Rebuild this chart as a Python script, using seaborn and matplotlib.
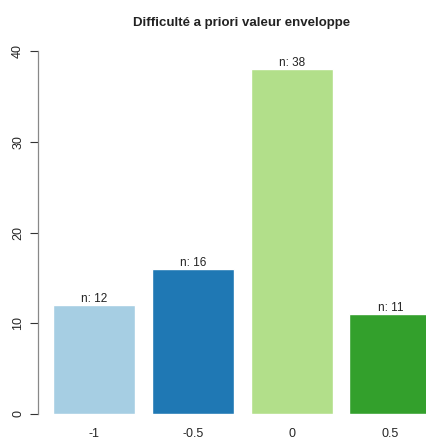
import pandas as pd
import matplotlib
matplotlib.use("Agg")
import matplotlib.pyplot as plt
import seaborn as sns

# data
categories = ["-1", "-0.5", "0", "0.5"]
counts = [12, 16, 38, 11]
title = "Difficulté a priori valeur enveloppe"

sns.set_style("white")
plt.rcParams['font.family'] = ['Liberation Sans', 'DejaVu Sans']

df = pd.DataFrame({"valeur": categories, "n": counts})
colors = sns.color_palette("Paired")[:4]

fig = plt.figure(figsize=(4.27, 4.43), dpi=100)
ax = fig.add_axes([38 / 427, 0.0655, 1 - 38 / 427, 0.850])

sns.barplot(data=df, x="valeur", y="n", hue="valeur", palette=colors,
            width=0.83, legend=False, ax=ax, saturation=1)

for cont, v in zip(ax.containers, counts):
    ax.bar_label(cont, labels=[f"n: {v}"], padding=0, fontsize=8.5, color="#222222")

ax.set_xlim(-0.567, 3.37)
ax.set_ylim(0, 41.5)
ax.set_yticks([0, 10, 20, 30, 40])
ax.set_yticklabels(["0", "10", "20", "30", "40"], rotation=90, va="center", fontsize=9)
ax.tick_params(axis="y", left=True, length=6, width=0.8, color="#333333", pad=4)
ax.tick_params(axis="x", bottom=False, length=0, pad=10, labelsize=9)
ax.set_xlabel("")
ax.set_ylabel("")

for s in ["top", "right", "bottom"]:
    ax.spines[s].set_visible(False)
ax.spines["left"].set_bounds(0, 40)
ax.spines["left"].set_color("#888888")
ax.spines["left"].set_linewidth(0.9)

fig.text(242 / 427, 1 - 23 / 443, title, ha="center", va="center",
         fontsize=9.5, fontweight="bold", color="#222222")

fig.savefig("out.png", dpi=100)
